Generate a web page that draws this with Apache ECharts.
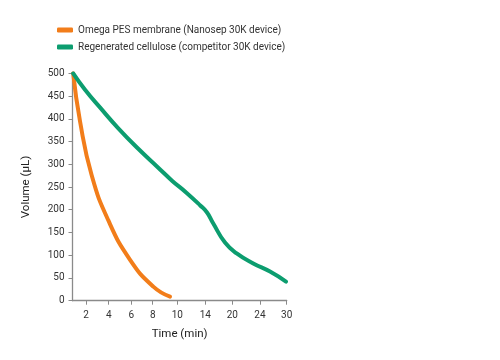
<!DOCTYPE html>
<html>
<head>
<meta charset="utf-8">
<script src="https://cdn.jsdelivr.net/npm/echarts@6/dist/echarts.min.js"></script>
<style>html,body{margin:0;padding:0;background:#fff}#c{width:500px;height:360px}</style>
</head>
<body>
<div id="c"></div>
<script>
// The time axis in the original is not linear; these stops map tick times
// to their relative position along the axis (0..100).
const xStopTimes = [1, 2, 4, 6, 8, 10, 14, 20, 24, 30];
const xStopPos   = [0, 6.3, 16.9, 27.45, 37.44, 48.93, 62.0, 74.6, 87.53, 100];
const xTickLabels = [2, 4, 6, 8, 10, 14, 20, 24, 30];

const seriesNames = ['Omega PES membrane (Nanosep 30K device)', 'Regenerated cellulose (competitor 30K device)'];

// Omega PES membrane (time in min, volume in µL)
const pesTime = [1.05, 1.56, 2.50, 3.96, 5.89, 8.05, 9.41];
const pesVol  = [500, 394, 276, 177, 90, 31, 9];

// Regenerated cellulose
const rcTime = [1.05, 1.93, 3.23, 4.85, 6.65, 8.43, 9.57, 11.34, 13.24, 14.38, 15.71, 18.38, 20.64, 23.03, 26.25, 29.84];
const rcVol  = [500, 464, 425, 379, 334, 293, 264, 237, 210, 194, 171, 128, 104, 82, 64, 42];

function toAxis(t) {
  const n = xStopTimes.length;
  for (let i = 0; i < n - 1; i++) {
    const a = xStopTimes[i], b = xStopTimes[i + 1];
    if (t <= b || i === n - 2) {
      return xStopPos[i] + (t - a) / (b - a) * (xStopPos[i + 1] - xStopPos[i]);
    }
  }
}
const tickPos = xTickLabels.map(toAxis);

const chart = echarts.init(document.getElementById('c'), null, {renderer: 'canvas'});
const font = 'Roboto, "Liberation Sans", sans-serif';
chart.setOption({
  animation: false,
  color: ['#F27D1A', '#0C9D6F'],
  textStyle: {fontFamily: font},
  legend: {
    orient: 'vertical', left: 57, top: 24, itemGap: 5, padding: 0,
    icon: 'roundRect', itemWidth: 16, itemHeight: 5,
    textStyle: {fontSize: 10, lineHeight: 12, color: '#333', fontFamily: font},
    data: seriesNames
  },
  grid: {left: 72.5, right: 213.3, top: 73.3, bottom: 59.3, containLabel: false},
  xAxis: {
    type: 'value', min: 0, max: 100,
    name: 'Time (min)', nameLocation: 'middle', nameGap: 27,
    nameTextStyle: {fontSize: 11.5, color: '#222', fontFamily: font},
    axisLine: {show: true, lineStyle: {color: '#8a8a8a', width: 1.3}},
    axisTick: {show: true, length: 4, lineStyle: {color: '#8a8a8a'}, customValues: tickPos},
    axisLabel: {
      customValues: tickPos, fontSize: 10, color: '#333', margin: 10, fontFamily: font,
      formatter: v => {
        let best = 0;
        tickPos.forEach((p, i) => { if (Math.abs(p - v) < Math.abs(tickPos[best] - v)) best = i; });
        return String(xTickLabels[best]);
      }
    },
    splitLine: {show: false}
  },
  yAxis: {
    type: 'value', min: 0, max: 500, interval: 50,
    name: 'Volume (µL)', nameLocation: 'middle', nameGap: 40,
    nameTextStyle: {fontSize: 11.5, color: '#222', fontFamily: font},
    axisLine: {show: true, lineStyle: {color: '#8a8a8a', width: 1.3}},
    axisTick: {show: true, length: 4, lineStyle: {color: '#8a8a8a'}},
    axisLabel: {fontSize: 10, color: '#333', margin: 8, fontFamily: font},
    splitLine: {show: false}
  },
  series: [
    {
      name: seriesNames[0], type: 'line', smooth: 0.5, symbol: 'none',
      lineStyle: {width: 4, cap: 'round'},
      data: pesTime.map((t, i) => [toAxis(t), pesVol[i]])
    },
    {
      name: seriesNames[1], type: 'line', smooth: 0.5, symbol: 'none',
      lineStyle: {width: 4, cap: 'round'},
      data: rcTime.map((t, i) => [toAxis(t), rcVol[i]])
    }
  ]
});
</script>
</body>
</html>
